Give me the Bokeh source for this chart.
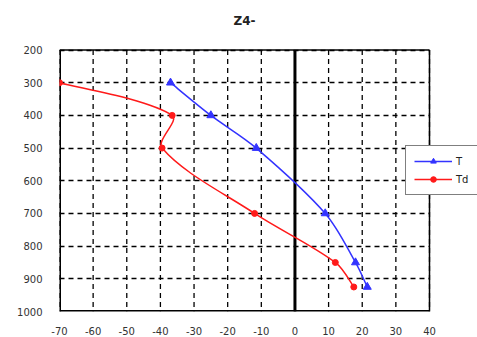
import math
from bokeh.plotting import figure
from bokeh.models import (Range1d, FixedTicker, Legend, LegendItem, ColumnDataSource,
                          CustomJSTickFormatter, Label)
from bokeh.embed import file_html
from bokeh.resources import INLINE

# data
p_levels_T = [300, 400, 500, 700, 850, 925]
T_values = [-37, -25, -11.5, 9, 18, 21.5]
p_levels_Td = [300, 400, 500, 700, 850, 925]
Td_values = [-70, -36.5, -39.5, -12, 12, 17.5]
x_ticks = [-70, -60, -50, -40, -30, -20, -10, 0, 10, 20, 30, 40]
y_ticks = [200, 300, 400, 500, 600, 700, 800, 900, 1000]
title_text = "Z4-"
series_names = ["T", "Td"]

# layout
W, H = 477, 337
LEFT, BOTTOM = 59, 23
AXIS_TOP_PX = 50             # pixel where the y axis starts (value 200)
AXIS_RIGHT_PX = 429          # pixel where the x axis ends (value 40)
X_MIN, X_MAX, Y_MIN, Y_MAX = -70, 40, 200, 1000
frame_w = W - LEFT
frame_h = H - BOTTOM
sx = (AXIS_RIGHT_PX - LEFT) / (X_MAX - X_MIN)          # px per x unit
sy = (frame_h - AXIS_TOP_PX) / (Y_MAX - Y_MIN)         # px per y unit
x_end = X_MIN + frame_w / sx
y_top = Y_MIN - AXIS_TOP_PX / sy


def bezier_segments(xs, ys):
    # smoothed line (chord-length weighted Catmull-Rom) as cubic Bezier segments
    P = [(x * sx, y * sy) for x, y in zip(xs, ys)]
    n = len(P)

    def dist(a, b):
        return math.hypot(a[0] - b[0], a[1] - b[1])

    out = dict(x0=[], y0=[], x1=[], y1=[], cx0=[], cy0=[], cx1=[], cy1=[])
    for i in range(n - 1):
        a, b = P[i], P[i + 1]
        d = dist(a, b)
        if i == 0:
            c0 = (a[0] + (b[0] - a[0]) / 6, a[1] + (b[1] - a[1]) / 6)
        else:
            pr = P[i - 1]
            dp = dist(pr, a)
            f = d / (d + dp) / 3
            c0 = (a[0] + (b[0] - pr[0]) * f, a[1] + (b[1] - pr[1]) * f)
        if i + 1 == n - 1:
            c1 = (b[0] - (b[0] - a[0]) / 6, b[1] - (b[1] - a[1]) / 6)
        else:
            nx = P[i + 2]
            dn = dist(b, nx)
            f = d / (d + dn) / 3
            c1 = (b[0] - (nx[0] - a[0]) * f, b[1] - (nx[1] - a[1]) * f)
        out["x0"].append(a[0] / sx); out["y0"].append(a[1] / sy)
        out["x1"].append(b[0] / sx); out["y1"].append(b[1] / sy)
        out["cx0"].append(c0[0] / sx); out["cy0"].append(c0[1] / sy)
        out["cx1"].append(c1[0] / sx); out["cy1"].append(c1[1] / sy)
    return out


p = figure(width=W, height=H, output_backend="svg", toolbar_location=None, title=None,
           x_range=Range1d(X_MIN, x_end), y_range=Range1d(Y_MAX, y_top),
           min_border_left=LEFT, min_border_right=0, min_border_top=0, min_border_bottom=BOTTOM)

p.outline_line_color = None
p.background_fill_color = "white"
p.border_fill_color = "white"

fmt = CustomJSTickFormatter(code="return String(tick);")
for ax in (p.xaxis[0], p.yaxis[0]):
    ax.axis_line_color = None
    ax.major_tick_line_color = None
    ax.minor_tick_line_color = None
    ax.major_label_text_font = "DejaVu Sans"
    ax.major_label_text_font_size = "10px"
    ax.major_label_text_color = "#333333"
    ax.formatter = fmt
p.xaxis[0].ticker = FixedTicker(ticks=x_ticks)
p.yaxis[0].ticker = FixedTicker(ticks=y_ticks)
p.xaxis[0].major_label_standoff = 9
p.yaxis[0].major_label_standoff = 11

# horizontal grid from Bokeh; vertical grid drawn only inside the axes box
p.xgrid.grid_line_color = None
p.ygrid.ticker = FixedTicker(ticks=y_ticks)
p.ygrid.grid_line_color = "black"
p.ygrid.grid_line_dash = "5 4"
p.ygrid.grid_line_width = 1.3

# white area right of the axes box (hides the horizontal grid there)
p.quad(left=[X_MAX], right=[x_end + 5], bottom=[Y_MAX + 50], top=[y_top - 50],
       fill_color="white", line_color=None)
p.segment(x0=x_ticks, y0=[Y_MIN] * len(x_ticks), x1=x_ticks, y1=[Y_MAX] * len(x_ticks),
          line_color="black", line_width=1.3, line_dash="5 4")
# axes box: left/bottom edges lie on the frame edge (half clipped)
p.segment(x0=[X_MIN, X_MIN], y0=[Y_MAX, Y_MIN], x1=[X_MAX, X_MIN], y1=[Y_MAX, Y_MAX],
          line_color="black", line_width=3)
p.segment(x0=[X_MIN, X_MAX], y0=[Y_MIN, Y_MIN], x1=[X_MAX, X_MAX], y1=[Y_MIN, Y_MAX],
          line_color="black", line_width=1.5)
# vertical zero line
p.segment(x0=[0], y0=[Y_MIN], x1=[0], y1=[Y_MAX], line_color="black", line_width=3)

blue = "#3333ff"
red = "#ff1a1a"

bT = ColumnDataSource(bezier_segments(T_values, p_levels_T))
bTd = ColumnDataSource(bezier_segments(Td_values, p_levels_Td))
p.bezier(x0="x0", y0="y0", x1="x1", y1="y1", cx0="cx0", cy0="cy0", cx1="cx1", cy1="cy1",
         source=bT, line_color=blue, line_width=1.5)
p.bezier(x0="x0", y0="y0", x1="x1", y1="y1", cx0="cx0", cy0="cy0", cx1="cx1", cy1="cy1",
         source=bTd, line_color=red, line_width=1.5)
mT = p.scatter(T_values, p_levels_T, marker="triangle", size=8, color=blue)
mTd = p.scatter(Td_values, p_levels_Td, marker="circle", size=6, color=red)

# legend proxies (line part), placed outside the visible ranges
off_x = [x_end + 100, x_end + 110]
off_y = [500, 500]
gT_line = p.line(x=off_x, y=off_y, line_color=blue, line_width=1.5)
gTd_line = p.line(x=off_x, y=off_y, line_color=red, line_width=1.5)

legend = Legend(items=[LegendItem(label=series_names[0], renderers=[gT_line, mT]),
                       LegendItem(label=series_names[1], renderers=[gTd_line, mTd])],
                location=(346, 116))
legend.border_line_color = "black"
legend.border_line_width = 1.5
legend.background_fill_alpha = 1
legend.label_text_font = "DejaVu Sans"
legend.label_text_font_size = "10px"
legend.label_text_color = "#222222"
legend.glyph_width = 38
legend.glyph_height = 14
legend.spacing = 4
legend.padding = 8
legend.label_standoff = 4
legend.margin = 0
p.add_layout(legend)

# chart title, centred over the axes box
p.add_layout(Label(x=(AXIS_RIGHT_PX + LEFT) / 2 - LEFT, y=frame_h - 23,
                   x_units="screen", y_units="screen", text=title_text,
                   text_align="center", text_baseline="middle",
                   text_font="DejaVu Sans", text_font_size="12px", text_font_style="bold",
                   text_color="#222222"))

open("out.html", "w").write(file_html(p, INLINE))
